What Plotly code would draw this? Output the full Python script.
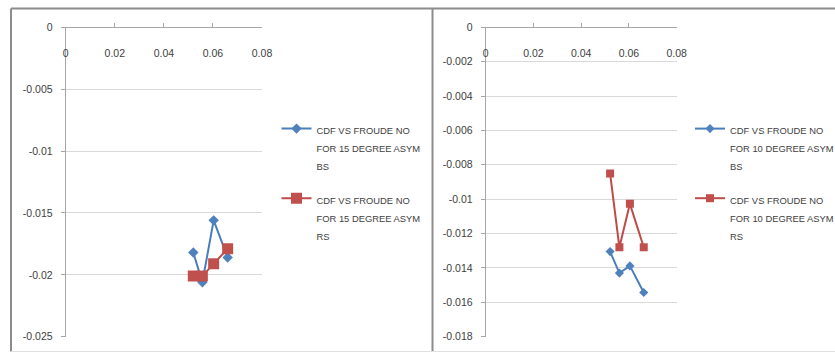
import plotly.graph_objects as go

# Froude number (x) and drag coefficient CDF (y) for the two asymmetric cases
froude_15 = [0.052, 0.0557, 0.0603, 0.066]
cdf_15_bs = [-0.0182, -0.0206, -0.0156, -0.0186]
cdf_15_rs = [-0.0201, -0.0201, -0.0191, -0.0179]

froude_10 = [0.0521, 0.056, 0.0604, 0.0662]
cdf_10_bs = [-0.01305, -0.0143, -0.01388, -0.01543]
cdf_10_rs = [-0.0085, -0.0128, -0.01027, -0.0128]

x_ticks = [0, 0.02, 0.04, 0.06, 0.08]
x_tick_text = ["0", "0.02", "0.04", "0.06", "0.08"]
y_ticks_15 = [0, -0.005, -0.01, -0.015, -0.02, -0.025]
y_tick_text_15 = ["0", "-0.005", "-0.01", "-0.015", "-0.02", "-0.025"]
y_ticks_10 = [0, -0.002, -0.004, -0.006, -0.008, -0.01, -0.012, -0.014, -0.016, -0.018]
y_tick_text_10 = ["0", "-0.002", "-0.004", "-0.006", "-0.008", "-0.01", "-0.012",
                  "-0.014", "-0.016", "-0.018"]

labels_15 = [["CDF VS FROUDE NO", "FOR 15 DEGREE ASYM", "BS"],
             ["CDF VS FROUDE NO", "FOR 15 DEGREE ASYM", "RS"]]
labels_10 = [["CDF VS FROUDE NO", "FOR 10 DEGREE ASYM", "BS"],
             ["CDF VS FROUDE NO", "FOR 10 DEGREE ASYM", "RS"]]

LEG_TEXT_PX = 9.4


def legend_name(lines):
    # small glyphs on widely spaced lines, as in a spreadsheet legend
    return "<br>".join(f"<span style='font-size:{LEG_TEXT_PX}px'>{s}</span>" for s in lines)


BLUE_LINE, BLUE_MARK = "#4A7EBB", "#4F81BD"
RED_LINE, RED_MARK = "#BE4B48", "#C0504D"
FONT = "Liberation Sans, Arial, sans-serif"
TEXT = "#404040"
GRID = "#d9d9d9"
AXIS = "#a6a6a6"

W, H = 835, 354

fig = go.Figure()

fig.add_trace(go.Scatter(x=froude_15, y=cdf_15_bs, name=legend_name(labels_15[0]),
                         mode="lines+markers", line=dict(color=BLUE_LINE, width=2),
                         marker=dict(symbol="diamond", size=8, color=BLUE_MARK),
                         xaxis="x", yaxis="y", legend="legend", legendgroup="a"))
fig.add_trace(go.Scatter(x=froude_15, y=cdf_15_rs, name=legend_name(labels_15[1]),
                         mode="lines+markers", line=dict(color=RED_LINE, width=2),
                         marker=dict(symbol="square", size=11, color=RED_MARK),
                         xaxis="x", yaxis="y", legend="legend", legendgroup="b"))
fig.add_trace(go.Scatter(x=froude_10, y=cdf_10_bs, name=legend_name(labels_10[0]),
                         mode="lines+markers", line=dict(color=BLUE_LINE, width=2),
                         marker=dict(symbol="diamond", size=7, color=BLUE_MARK),
                         xaxis="x2", yaxis="y2", legend="legend2", legendgroup="c"))
fig.add_trace(go.Scatter(x=froude_10, y=cdf_10_rs, name=legend_name(labels_10[1]),
                         mode="lines+markers", line=dict(color=RED_LINE, width=2),
                         marker=dict(symbol="square", size=8, color=RED_MARK),
                         xaxis="x2", yaxis="y2", legend="legend2", legendgroup="d"))

y_dom = [(H - 336.7) / H, (H - 27.3) / H]

tickfont = dict(family=FONT, size=10.5, color=TEXT)
xcommon = dict(range=[0, 0.08], tickvals=x_ticks, ticktext=x_tick_text, side="bottom",
               anchor="free", position=y_dom[1], showline=True, linecolor=AXIS, linewidth=1,
               showgrid=False, zeroline=False, ticks="inside", ticklen=4, tickcolor=AXIS,
               ticklabelstandoff=16, tickfont=tickfont, fixedrange=True)
ycommon = dict(domain=y_dom, showline=True, linecolor=AXIS, linewidth=1, showgrid=True,
               gridcolor=GRID, gridwidth=1, zeroline=False, ticks="outside", ticklen=4,
               tickcolor=AXIS, ticklabelstandoff=6, tickfont=tickfont, fixedrange=True)

legcommon = dict(font=dict(family=FONT, size=14, color=TEXT), bgcolor="rgba(0,0,0,0)",
                 tracegroupgap=12, traceorder="grouped", valign="top",
                 yanchor="top", xanchor="left", itemclick=False, itemdoubleclick=False)

fig.update_layout(
    width=W, height=H, margin=dict(l=0, r=0, t=0, b=0, autoexpand=False),
    paper_bgcolor="white", plot_bgcolor="rgba(0,0,0,0)",
    xaxis=dict(domain=[65.7 / W, 262 / W], **xcommon),
    yaxis=dict(range=[-0.025, 0], tickvals=y_ticks_15, ticktext=y_tick_text_15,
               anchor="x", **ycommon),
    xaxis2=dict(domain=[485.7 / W, 676.7 / W], **xcommon),
    yaxis2=dict(range=[-0.018, 0], tickvals=y_ticks_10, ticktext=y_tick_text_10,
                anchor="x2", **ycommon),
    legend=dict(x=276.5 / W, y=(H - 113) / H, **legcommon),
    legend2=dict(x=690 / W, y=(H - 113) / H, **legcommon),
    showlegend=True,
)

# Chart-area frames
frame = "#8c8c8c"
top_y = (H - 8.5) / H
bot_y = (H - 351.5) / H
shapes = [
    dict(type="line", xref="paper", yref="paper", x0=11 / W, x1=1, y0=top_y, y1=top_y,
         line=dict(color=frame, width=2)),
    dict(type="line", xref="paper", yref="paper", x0=11 / W, x1=11 / W, y0=bot_y, y1=top_y,
         line=dict(color=frame, width=2)),
    dict(type="line", xref="paper", yref="paper", x0=432.5 / W, x1=432.5 / W, y0=bot_y,
         y1=top_y, line=dict(color=frame, width=2)),
    dict(type="line", xref="paper", yref="paper", x0=11 / W, x1=1, y0=bot_y, y1=bot_y,
         line=dict(color="#e0e0e0", width=1)),
]
fig.update_layout(shapes=shapes)

fig.write_html("out.html")
